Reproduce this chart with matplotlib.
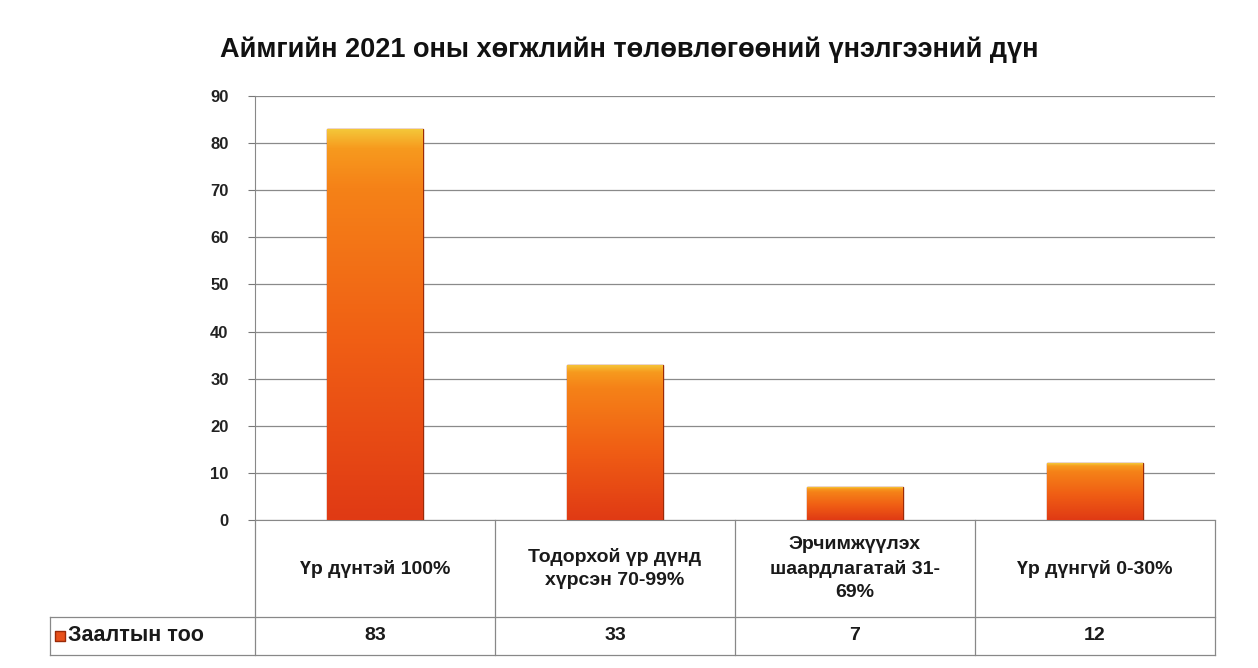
import matplotlib.pyplot as plt
import numpy as np
from matplotlib.colors import LinearSegmentedColormap

plt.rcParams['font.family'] = ['Liberation Sans', 'DejaVu Sans']

title = 'Аймгийн 2021 оны хөгжлийн төлөвлөгөөний үнэлгээний дүн'
categories = ['Үр дүнтэй 100%', 'Тодорхой үр дүнд\nхүрсэн 70-99%',
              'Эрчимжүүлэх\nшаардлагатай 31-\n69%', 'Үр дүнгүй 0-30%']
series_name = 'Заалтын тоо'
values = [83, 33, 7, 12]
yticks = [0, 10, 20, 30, 40, 50, 60, 70, 80, 90]

fig = plt.figure(figsize=(12.58, 6.68), dpi=100)
fig.patch.set_facecolor('white')
ax = fig.add_axes([0.2027, 0.2216, 0.7631, 0.6347])

x = np.arange(len(values))
bars = ax.bar(x, values, width=0.4, color='#f05a10', edgecolor='#9a2a08',
              linewidth=1.0, zorder=3)

# per-bar gradient: red at the base, orange body, yellow rim at the top
cmap = LinearSegmentedColormap.from_list(
    'fill', [(0.0, '#e03a14'), (0.45, '#f05e14'), (0.85, '#f58218'),
             (0.95, '#f79a1e'), (1.0, '#f4c83a')])
grad = np.linspace(0, 1, 256).reshape(-1, 1)
for b in bars:
    x0 = b.get_x()
    w, h = b.get_width(), b.get_height()
    im = ax.imshow(grad, cmap=cmap, origin='lower', aspect='auto',
                   extent=[x0, x0 + w, 0, h], zorder=3.5)
    im.set_clip_path(b)

ax.set_xlim(-0.5, len(values) - 0.5)
ax.set_ylim(0, 90)
ax.set_yticks(yticks)
ax.set_yticklabels([str(t) for t in yticks], fontsize=12, fontweight='bold',
                   color='#222222')
ax.tick_params(axis='y', length=5, color='#777777', pad=14)
ax.set_xticks([])
ax.yaxis.grid(True, color='#8a8a8a', linewidth=0.9, zorder=0)
for s in ['top', 'right']:
    ax.spines[s].set_visible(False)
ax.spines['left'].set_color('#888888')
ax.spines['bottom'].set_color('#888888')

# data table under the plot
trans = ax.get_xaxis_transform()
row1 = -0.229
row2 = -0.318
left = -1.354
lc = '#888888'
ax.plot([left, 3.5], [row1, row1], transform=trans, color=lc, lw=0.9, clip_on=False)
ax.plot([left, 3.5], [row2, row2], transform=trans, color=lc, lw=0.9, clip_on=False)
ax.plot([left, left], [row1, row2], transform=trans, color=lc, lw=0.9, clip_on=False)
for xb in np.arange(len(values) + 1) - 0.5:
    ax.plot([xb, xb], [0, row2], transform=trans, color=lc, lw=0.9, clip_on=False)

for i, (cat, v) in enumerate(zip(categories, values)):
    ax.text(i, row1 / 2, cat, transform=trans, ha='center', va='center',
            fontsize=14, fontweight='bold', color='#1a1a1a', linespacing=1.45)
    ax.text(i, (row1 + row2) / 2, str(v), transform=trans, ha='center',
            va='center', fontsize=14, fontweight='bold', color='#1a1a1a')

# legend key in the table
mid = (row1 + row2) / 2
ax.scatter([left + 0.04], [mid], transform=trans, marker='s', s=45,
           color='#e8501a', edgecolor='#9a2a08', clip_on=False, zorder=5)
ax.text(left + 0.075, mid, series_name, transform=trans, ha='left',
        va='center', fontsize=15.5, fontweight='bold', color='#1a1a1a')

fig.text(0.5, 0.925, title, ha='center', va='center', fontsize=19.5,
         fontweight='bold', color='#111111')

fig.savefig('out.png', dpi=100, facecolor='white')
